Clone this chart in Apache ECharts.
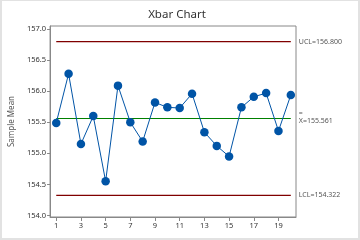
<!DOCTYPE html>
<html>
<head>
<meta charset="utf-8">
<script src="https://cdn.jsdelivr.net/npm/echarts@6/dist/echarts.min.js"></script>
<style>
html,body{margin:0;padding:0;background:#fff;}
#c{position:absolute;left:0;top:0;width:360px;height:240px;}
#frame{position:absolute;left:0;top:0;width:360px;height:240px;box-sizing:border-box;border-style:solid;border-color:#e2e2e2;border-width:1px 2px 2px 2px;pointer-events:none;}
</style>
</head>
<body>
<div id="c"></div>
<div id="frame"></div>
<script>
const samples = [1,2,3,4,5,6,7,8,9,10,11,12,13,14,15,16,17,18,19,20];
const means = [155.49,156.28,155.15,155.60,154.55,156.09,155.50,155.19,155.82,155.74,
               155.73,155.96,155.34,155.12,154.95,155.74,155.91,155.97,155.36,155.94];
const UCL = 156.800;
const CL = 155.561;
const LCL = 154.322;
const yTicks = [154.0,154.5,155.0,155.5,156.0,156.5,157.0];
const xTicks = [1,3,5,7,9,11,13,15,17,19];

const font = 'Noto Sans';
const first = samples[0], last = samples[samples.length-1];
function limitSeries(val, color, label, rich){
  return {
    type:'line', data:[[first,val],[last,val]], symbol:'none', silent:true,
    lineStyle:{color:color,width:1.2}, z:1,
    endLabel:{show:true, formatter:label, color:'#555', fontSize:7, fontFamily:font, distance:8, rich:rich}
  };
}
const chart = echarts.init(document.getElementById('c'));
chart.setOption({
  animation:false,
  title:{text:'Xbar Chart', left:172, top:4, textAlign:'center',
    textStyle:{fontSize:11.5, fontWeight:'normal', color:'#333', fontFamily:font}},
  grid:{left:48, top:26, width:248, height:191, show:true, borderColor:'#888', borderWidth:1},
  xAxis:{type:'value', min:0.5, max:20.42,
    axisLine:{show:true, onZero:false, lineStyle:{color:'#888'}},
    axisTick:{show:true, length:4, lineStyle:{color:'#888'}, customValues:xTicks},
    axisLabel:{customValues:xTicks, color:'#333', fontSize:7.5, fontFamily:font, margin:5},
    splitLine:{show:false}},
  yAxis:{type:'value', min:153.975, max:157.05,
    name:'Sample Mean', nameLocation:'middle', nameGap:27,
    nameTextStyle:{fontSize:8, color:'#555', fontFamily:font},
    axisLine:{show:true, lineStyle:{color:'#888'}},
    axisTick:{show:true, length:3, lineStyle:{color:'#888'}, customValues:yTicks},
    axisLabel:{customValues:yTicks, formatter:v=>v.toFixed(1), color:'#333', fontSize:7.5, fontFamily:font, margin:4},
    splitLine:{show:false}},
  series:[
    limitSeries(UCL,'#800000','UCL='+UCL.toFixed(3)),
    limitSeries(CL,'#008000','{a|=}\n{b|X='+CL.toFixed(3)+'}',
      {a:{fontSize:7, lineHeight:6, color:'#555', fontFamily:font}, b:{fontSize:7, lineHeight:10, color:'#555', fontFamily:font}}),
    limitSeries(LCL,'#800000','LCL='+LCL.toFixed(3)),
    {type:'line', data:samples.map((s,i)=>[s,means[i]]), symbol:'circle', symbolSize:8.5,
     itemStyle:{color:'#0054a6'}, lineStyle:{color:'#0054a6', width:1}, z:3}
  ]
});
</script>
</body>
</html>
